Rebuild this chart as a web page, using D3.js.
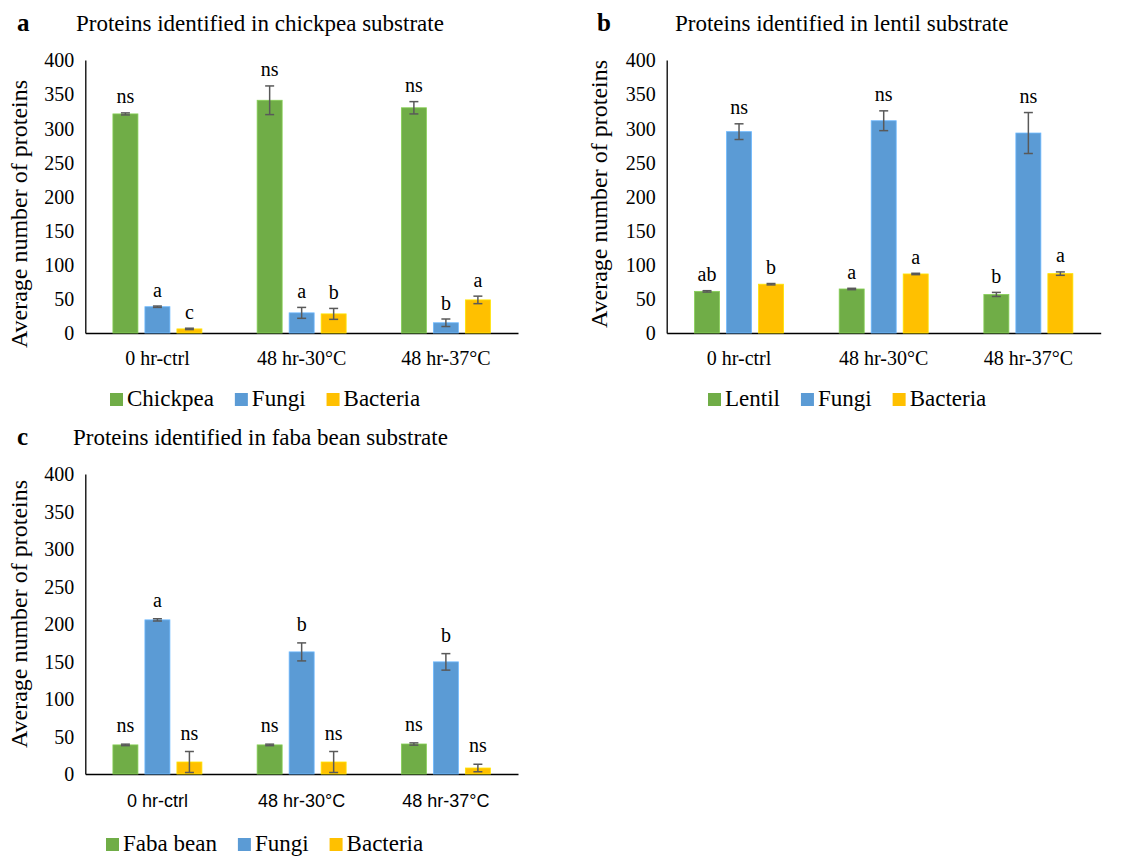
<!DOCTYPE html>
<html><head><meta charset="utf-8">
<script src="https://cdn.jsdelivr.net/npm/d3@7"></script>
<style>body{margin:0;background:#fff}svg{display:block}</style>
</head><body>
<svg id="chart" width="1130" height="856"></svg>
<script>
// ---------- data ----------
const groups = ["0 hr-ctrl", "48 hr-30°C", "48 hr-37°C"];
const yTicks = [0, 50, 100, 150, 200, 250, 300, 350, 400];

const seriesA = ["Chickpea", "Fungi", "Bacteria"];
const valuesA = [[321, 341, 330], [38.5, 29.5, 15], [6, 28, 48.5]];
const errorsA = [[1.5, 21, 9], [1, 8, 5.5], [1, 8, 5.5]];
const lettersA = [["ns", "ns", "ns"], ["a", "a", "b"], ["c", "b", "a"]];

const seriesB = ["Lentil", "Fungi", "Bacteria"];
const valuesB = [[61, 64.5, 56.5], [295, 311, 293], [71.5, 86.5, 87]];
const errorsB = [[1, 1, 3], [11.5, 14.5, 30], [1, 1, 2.5]];
const lettersB = [["ab", "a", "b"], ["ns", "ns", "ns"], ["b", "a", "a"]];

const seriesC = ["Faba bean", "Fungi", "Bacteria"];
const valuesC = [[38.8, 38.8, 40], [205.5, 162.8, 149.5], [16, 16, 8]];
const errorsC = [[1, 1, 1.5], [1.5, 12, 11], [14, 14, 5]];
const lettersC = [["ns", "ns", "ns"], ["a", "b", "b"], ["ns", "ns", "ns"]];

const colors = ["#70AD47", "#5B9BD5", "#FFC000"];
const serif = "'Liberation Serif','Times New Roman',serif";

const svg = d3.select("#chart");

function panel(cfg) {
  const g = svg.append("g");
  const x0 = d3.scaleBand().domain(groups).range([cfg.left, cfg.right]).paddingInner(0).paddingOuter(0);
  const bandW = x0.bandwidth();
  const barW = 25, step = 32;
  const y = d3.scaleLinear().domain([0, 400]).range([cfg.bottom, cfg.top]);

  // panel letter + title
  g.append("text").attr("x", cfg.letterX).attr("y", cfg.titleY).attr("font-family", serif)
    .attr("font-weight", "bold").attr("font-size", 25).attr("fill", "#000").text(cfg.letter);
  g.append("text").attr("x", cfg.titleX).attr("y", cfg.titleY).attr("font-family", serif)
    .attr("font-size", 23).attr("fill", "#000").text(cfg.title);

  // y axis
  const yAxis = d3.axisLeft(y).tickValues(yTicks).tickSize(0).tickPadding(11).tickFormat(d3.format("d"));
  const ya = g.append("g").attr("transform", `translate(${cfg.left},0)`).call(yAxis);
  ya.select(".domain").attr("stroke", "#000").attr("stroke-width", 1.3);
  ya.selectAll("text").attr("font-family", serif).attr("font-size", 20).attr("fill", "#000").attr("dy", "0.34em");

  // x axis
  const xAxis = d3.axisBottom(x0).tickSize(0).tickPadding(0);
  const xa = g.append("g").attr("transform", `translate(0,${cfg.bottom})`).call(xAxis);
  xa.select(".domain").attr("stroke", "#000").attr("stroke-width", 1.3);
  xa.selectAll("text").attr("font-family", cfg.xFont).attr("font-size", cfg.xFontSize).attr("fill", "#000")
    .attr("dy", 0).attr("y", cfg.xLabelY - cfg.bottom);

  // y title
  g.append("text").attr("transform", `translate(${cfg.yTitleX},${cfg.yTitleY}) rotate(-90)`)
    .attr("text-anchor", "middle").attr("font-family", serif).attr("font-size", 24).attr("fill", "#000")
    .text("Average number of proteins");

  // bars
  cfg.series.forEach((s, si) => {
    groups.forEach((grp, gi) => {
      const cx = x0(grp) + bandW / 2 + (si - 1) * step;
      const v = cfg.values[si][gi], e = cfg.errors[si][gi];
      g.append("rect").attr("x", cx - barW / 2).attr("width", barW)
        .attr("y", y(v)).attr("height", y(0) - y(v)).attr("fill", colors[si])
        .attr("stroke", d3.color(colors[si]).brighter(0.5)).attr("stroke-width", 0.8);
      // error bar
      const eb = g.append("g").attr("stroke", "#595959").attr("stroke-width", 1.5);
      eb.append("line").attr("x1", cx).attr("x2", cx).attr("y1", y(v + e)).attr("y2", y(v - e));
      eb.append("line").attr("x1", cx - 4.5).attr("x2", cx + 4.5).attr("y1", y(v + e)).attr("y2", y(v + e));
      eb.append("line").attr("x1", cx - 4.5).attr("x2", cx + 4.5).attr("y1", y(v - e)).attr("y2", y(v - e));
      // letter
      g.append("text").attr("x", cx).attr("y", y(v + e) - cfg.labelOff).attr("text-anchor", "middle")
        .attr("font-family", serif).attr("font-size", 20).attr("fill", "#000").text(cfg.letters[si][gi]);
    });
  });

  // legend
  let lx = cfg.legendX;
  cfg.series.forEach((s, si) => {
    g.append("rect").attr("x", lx).attr("y", cfg.legendY - 13).attr("width", 13).attr("height", 13).attr("fill", colors[si]);
    const t = g.append("text").attr("x", lx + 17).attr("y", cfg.legendY).attr("font-family", serif)
      .attr("font-size", 23).attr("fill", "#000").text(s);
    lx += 17 + t.node().getComputedTextLength() + 21;
  });
}

panel({letter: "a", letterX: 17, titleX: 76, titleY: 31, title: "Proteins identified in chickpea substrate",
  left: 85.3, right: 518, top: 60, bottom: 333, xLabelY: 365, xFont: serif, xFontSize: 20,
  yTitleX: 27, yTitleY: 214, labelOff: 9.5, legendX: 110, legendY: 406,
  series: seriesA, values: valuesA, errors: errorsA, letters: lettersA});

panel({letter: "b", letterX: 597, titleX: 675, titleY: 31, title: "Proteins identified in lentil substrate",
  left: 666.7, right: 1100.7, top: 60, bottom: 333, xLabelY: 365, xFont: serif, xFontSize: 20,
  yTitleX: 607, yTitleY: 194, labelOff: 9.5, legendX: 708, legendY: 406,
  series: seriesB, values: valuesB, errors: errorsB, letters: lettersB});

panel({letter: "c", letterX: 17, titleX: 73, titleY: 445, title: "Proteins identified in faba bean substrate",
  left: 85.3, right: 518, top: 474, bottom: 774, xLabelY: 807, xFont: "'Liberation Sans',Arial,sans-serif", xFontSize: 18,
  yTitleX: 27, yTitleY: 614, labelOff: 12, legendX: 106, legendY: 851,
  series: seriesC, values: valuesC, errors: errorsC, letters: lettersC});
</script>
</body></html>
